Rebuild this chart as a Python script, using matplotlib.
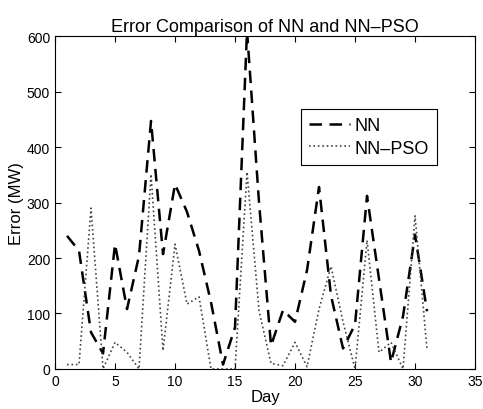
import numpy as np
import matplotlib.pyplot as plt

plt.rcParams['font.family'] = ['Liberation Sans', 'DejaVu Sans']

days = list(range(1, 32))
nn = [240, 213, 66, 28, 225, 108, 204, 447, 207, 333, 283, 213, 120, 8, 75,
      610, 300, 42, 106, 85, 178, 328, 132, 37, 80, 312, 162, 12, 95, 242, 104]
nn_pso = [8, 8, 290, 0, 48, 30, 0, 351, 33, 225, 117, 130, 0, 0, 0,
          355, 105, 10, 6, 48, 4, 108, 185, 85, 0, 232, 30, 48, 0, 276, 35]

fig = plt.figure(figsize=(4.83, 4.10), dpi=100)
ax = fig.add_axes([0.1139, 0.0976, 0.8696, 0.812])

ax.plot(days, nn, 'k--', linewidth=1.8, dashes=(5, 3), label='NN')
ax.plot(days, nn_pso, ':', linewidth=1.2, color='#444444', label='NN\u2013PSO')

ax.set_xlim(0, 35)
ax.set_ylim(0, 600)
ax.set_xticks(range(0, 36, 5))
ax.set_yticks(range(0, 601, 100))
ax.tick_params(direction='in', top=True, right=True, labelsize=10, length=4)
ax.set_title('Error Comparison of NN and NN\u2013PSO', fontsize=13, pad=4)
ax.set_xlabel('Day', fontsize=12, labelpad=1)
ax.set_ylabel('Error (MW)', fontsize=12, labelpad=2)

leg = ax.legend(loc='upper right', bbox_to_anchor=(0.93, 0.808), fontsize=13,
                fancybox=False, edgecolor='black', framealpha=1,
                handlelength=2.3, handletextpad=0.2, borderpad=0.45, labelspacing=0.3)
leg.get_frame().set_linewidth(0.8)

plt.savefig('out.png')
